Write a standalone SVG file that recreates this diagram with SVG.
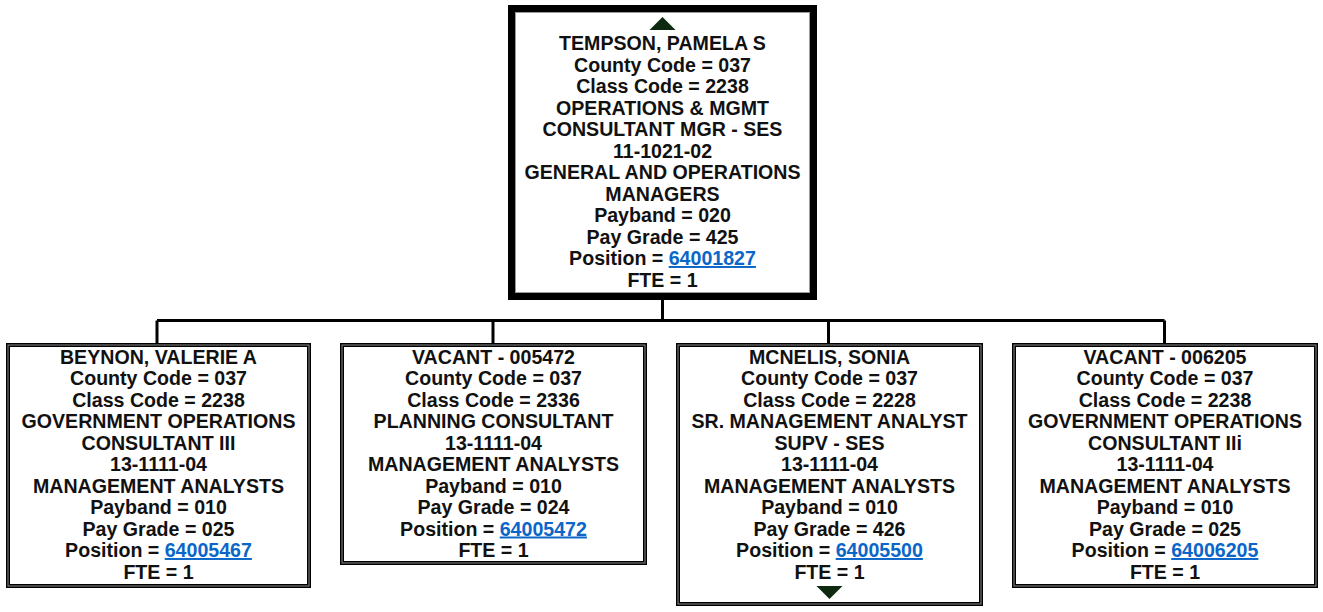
<svg xmlns="http://www.w3.org/2000/svg" width="1323" height="612" viewBox="0 0 1323 612">
  <style>
    text { font-family: "Liberation Sans", Arial, sans-serif; font-weight: bold; font-size: 19.6px; fill: #111; text-anchor: middle; }
    .link { fill: #0a66c8; text-decoration: underline; }
    .frame { fill: #fff; stroke: #000; stroke-width: 4; }
    .frame-in { fill: none; stroke: #8c8c8c; stroke-width: 1; }
    .frame-top { fill: #fff; stroke: #000; stroke-width: 7; }
    .frame-top-in { fill: none; stroke: #9a9a9a; stroke-width: 1; }
    .wire { fill: none; stroke: #000; stroke-width: 3; }
    .nav { fill: #0d2a10; }
  </style>

  <rect width="1323" height="612" fill="#fff"/>

  <!-- reporting lines -->
  <g id="connectors">
    <path class="wire" d="M662.5 300 V320.5"/>
    <path class="wire" d="M157 320.5 H1164.5"/>
    <path class="wire" d="M157 320.5 V343"/>
    <path class="wire" d="M493 320.5 V343"/>
    <path class="wire" d="M828.5 320.5 V343"/>
    <path class="wire" d="M1164.5 320.5 V343"/>
  </g>

  <!-- manager -->
  <g id="node-tempson">
    <rect class="frame-top" x="511.5" y="8.5" width="302" height="288"/>
    <rect class="frame-top-in" x="515.5" y="12.5" width="294" height="280"/>
    <polygon class="nav" points="649.5,30 675.5,30 662.5,17"/>
    <text x="662.5" y="50">TEMPSON, PAMELA S</text>
    <text x="662.5" y="71.5">County Code = 037</text>
    <text x="662.5" y="93">Class Code = 2238</text>
    <text x="662.5" y="114.5">OPERATIONS &amp; MGMT</text>
    <text x="662.5" y="136">CONSULTANT MGR - SES</text>
    <text x="662.5" y="157.5">11-1021-02</text>
    <text x="662.5" y="179">GENERAL AND OPERATIONS</text>
    <text x="662.5" y="200.5">MANAGERS</text>
    <text x="662.5" y="222">Payband = 020</text>
    <text x="662.5" y="243.5">Pay Grade = 425</text>
    <text x="662.5" y="265">Position = <tspan class="link">64001827</tspan></text>
    <text x="662.5" y="286.5">FTE = 1</text>
  </g>

  <g id="node-beynon">
    <rect class="frame" x="8" y="345" width="301" height="241"/>
    <rect class="frame-in" x="8" y="345" width="301" height="241"/>
    <text x="158.5" y="363.5">BEYNON, VALERIE A</text>
    <text x="158.5" y="385">County Code = 037</text>
    <text x="158.5" y="406.5">Class Code = 2238</text>
    <text x="158.5" y="428">GOVERNMENT OPERATIONS</text>
    <text x="158.5" y="449.5">CONSULTANT III</text>
    <text x="158.5" y="471">13-1111-04</text>
    <text x="158.5" y="492.5">MANAGEMENT ANALYSTS</text>
    <text x="158.5" y="514">Payband = 010</text>
    <text x="158.5" y="535.5">Pay Grade = 025</text>
    <text x="158.5" y="557">Position = <tspan class="link">64005467</tspan></text>
    <text x="158.5" y="578.5">FTE = 1</text>
  </g>

  <g id="node-vacant-005472">
    <rect class="frame" x="342" y="345" width="303" height="218"/>
    <rect class="frame-in" x="342" y="345" width="303" height="218"/>
    <text x="493.5" y="363.5">VACANT - 005472</text>
    <text x="493.5" y="385">County Code = 037</text>
    <text x="493.5" y="406.5">Class Code = 2336</text>
    <text x="493.5" y="428">PLANNING CONSULTANT</text>
    <text x="493.5" y="449.5">13-1111-04</text>
    <text x="493.5" y="471">MANAGEMENT ANALYSTS</text>
    <text x="493.5" y="492.5">Payband = 010</text>
    <text x="493.5" y="514">Pay Grade = 024</text>
    <text x="493.5" y="535.5">Position = <tspan class="link">64005472</tspan></text>
    <text x="493.5" y="557">FTE = 1</text>
  </g>

  <g id="node-mcnelis">
    <rect class="frame" x="678" y="345" width="303" height="259"/>
    <rect class="frame-in" x="678" y="345" width="303" height="259"/>
    <text x="829.5" y="363.5">MCNELIS, SONIA</text>
    <text x="829.5" y="385">County Code = 037</text>
    <text x="829.5" y="406.5">Class Code = 2228</text>
    <text x="829.5" y="428">SR. MANAGEMENT ANALYST</text>
    <text x="829.5" y="449.5">SUPV - SES</text>
    <text x="829.5" y="471">13-1111-04</text>
    <text x="829.5" y="492.5">MANAGEMENT ANALYSTS</text>
    <text x="829.5" y="514">Payband = 010</text>
    <text x="829.5" y="535.5">Pay Grade = 426</text>
    <text x="829.5" y="557">Position = <tspan class="link">64005500</tspan></text>
    <text x="829.5" y="578.5">FTE = 1</text>
    <polygon class="nav" points="816.5,586 842.5,586 829.5,599"/>
  </g>

  <g id="node-vacant-006205">
    <rect class="frame" x="1014" y="345" width="302" height="241"/>
    <rect class="frame-in" x="1014" y="345" width="302" height="241"/>
    <text x="1165" y="363.5">VACANT - 006205</text>
    <text x="1165" y="385">County Code = 037</text>
    <text x="1165" y="406.5">Class Code = 2238</text>
    <text x="1165" y="428">GOVERNMENT OPERATIONS</text>
    <text x="1165" y="449.5">CONSULTANT IIi</text>
    <text x="1165" y="471">13-1111-04</text>
    <text x="1165" y="492.5">MANAGEMENT ANALYSTS</text>
    <text x="1165" y="514">Payband = 010</text>
    <text x="1165" y="535.5">Pay Grade = 025</text>
    <text x="1165" y="557">Position = <tspan class="link">64006205</tspan></text>
    <text x="1165" y="578.5">FTE = 1</text>
  </g>
</svg>
